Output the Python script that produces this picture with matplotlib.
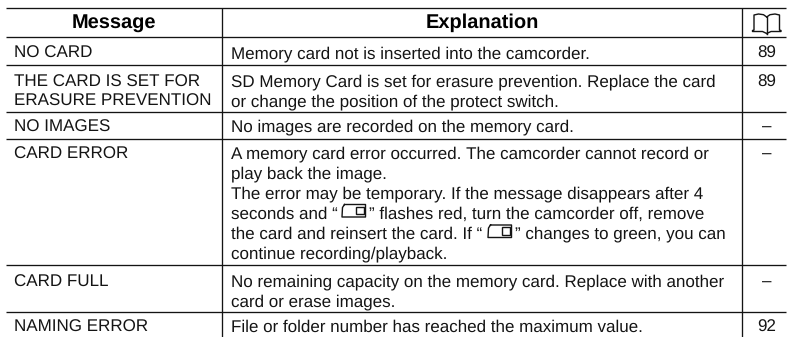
import matplotlib
matplotlib.use("Agg")
import matplotlib.pyplot as plt
from matplotlib.patches import Rectangle

plt.rcParams['font.family'] = ['Liberation Sans', 'DejaVu Sans']
plt.rcParams['text.hinting'] = 'no_hinting'
plt.rcParams['text.hinting_factor'] = 1

W, H = 787, 337
headers = ["Message", "Explanation"]
messages = [("NO CARD", 58), ("THE CARD IS SET FOR", 86.5), ("ERASURE PREVENTION", 106),
            ("NO IMAGES", 131.7), ("CARD ERROR", 158.7), ("CARD FULL", 286.7), ("NAMING ERROR", 331.7)]
explanations = [
    ("Memory card not is inserted into the camcorder.", 231, 58),
    ("SD Memory Card is set for erasure prevention. Replace the card", 231, 86.5),
    ("or change the position of the protect switch.", 231, 106),
    ("No images are recorded on the memory card.", 231, 131.7),
    ("A memory card error occurred. The camcorder cannot record or", 231, 158.7),
    ("play back the image.", 231, 178.7),
    ("The error may be temporary. If the message disappears after 4", 231, 198.7),
    ("seconds and \u201c", 231, 218.7),
    ("\u201d flashes red, turn the camcorder off, remove", 369, 218.7),
    ("the card and reinsert the card. If \u201c", 231, 238.7),
    ("\u201d changes to green, you can", 515, 238.7),
    ("continue recording/playback.", 231, 258.7),
    ("No remaining capacity on the memory card. Replace with another", 231, 286.7),
    ("card or erase images.", 231, 306.7),
    ("File or folder number has reached the maximum value.", 231, 331.7),
]
pages = [("89", 58), ("89", 86.5), ("\u2013", 131.7), ("\u2013", 158.7), ("\u2013", 286.7), ("92", 331.7)]
h_rules = [8, 36.5, 65, 111.5, 138.5, 265, 312]
v_rules = [222, 742]
card_icons = [(342, 204.5), (488, 225)]

fig = plt.figure(figsize=(W / 100, H / 100), dpi=100)
ax = fig.add_axes([0, 0, 1, 1])
ax.set_xlim(0, W)
ax.set_ylim(H, 0)
ax.axis("off")

INK = "#141414"
FS = 12.4
for y in h_rules:
    ax.plot([6, 786], [y, y], color=INK, lw=0.95, solid_capstyle="butt")
for x in v_rules:
    ax.plot([x, x], [8, 337], color=INK, lw=0.95, solid_capstyle="butt")

ax.text(114, 28.3, headers[0], fontsize=14.4, fontweight="bold", ha="center", va="baseline", color="black")
ax.text(482, 28.3, headers[1], fontsize=14.4, fontweight="bold", ha="center", va="baseline", color="black")

for s, y in messages:
    ax.text(14.5, y, s, fontsize=FS, va="baseline", color=INK)
for s, x, y in explanations:
    ax.text(x, y, s, fontsize=FS, va="baseline", color=INK)
for s, y in pages:
    ax.text(766.5, y, s, fontsize=FS, ha="center", va="baseline", color=INK)

# inline memory-card icons: chamfered outline with an inset square
for x, y in card_icons:
    ax.plot([x + 2.5, x + 23.5, x + 23.5, x, x + 0.5, x + 2.5],
            [y, y, y + 12.5, y + 12.5, y + 3, y], color=INK, lw=1.0)
    ax.add_patch(Rectangle((x + 13.5, y + 2), 8, 7.5, fill=False, ec=INK, lw=1.0))

# book icon in the header
bx, by = 752.5, 14
ax.plot([bx + 14.2, bx + 11, bx + 6, bx + 1.5, bx + 1.5, bx, bx, bx + 10, bx + 14.2],
        [by + 3, by + 0.7, by, by + 1, by + 16, by + 16.5, by + 17.5, by + 17.5, by + 19.5], color=INK, lw=1.0)
ax.plot([bx + 14.2, bx + 17.5, bx + 22.5, bx + 27, bx + 27, bx + 28.5, bx + 28.5, bx + 18.5, bx + 14.2],
        [by + 3, by + 0.7, by, by + 1, by + 16, by + 16.5, by + 17.5, by + 17.5, by + 19.5], color=INK, lw=1.0)
ax.plot([bx + 14.2, bx + 14.2], [by + 3, by + 19.5], color=INK, lw=1.0)

fig.savefig("out.png", dpi=100, facecolor="white")
